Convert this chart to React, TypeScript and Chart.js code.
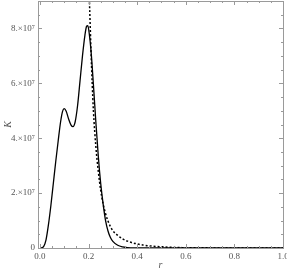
import React, { useEffect, useRef } from "react";
import { Chart, registerables } from "chart.js";

Chart.register(...registerables);

const solidR = [0.005, 0.015, 0.025, 0.035, 0.045, 0.055, 0.065, 0.075, 0.085, 0.093, 0.1, 0.108, 0.118, 0.128, 0.136, 0.145, 0.155, 0.165, 0.175, 0.185, 0.192, 0.197, 0.203, 0.21, 0.22, 0.23, 0.24, 0.25, 0.26, 0.27, 0.28, 0.29, 0.3, 0.32, 0.34, 0.36, 0.4, 0.5, 1.0];
const solidK = [0, 0.05, 0.3, 0.85, 1.55, 2.35, 3.15, 3.9, 4.6, 4.98, 5.08, 4.98, 4.7, 4.48, 4.42, 4.6, 5.2, 6.1, 7.0, 7.75, 8.08, 8.1, 7.8, 7.2, 5.95, 4.6, 3.35, 2.35, 1.6, 1.0, 0.62, 0.38, 0.24, 0.1, 0.04, 0.015, 0.004, 0, 0];

const dashedR = [0.195, 0.2, 0.205, 0.21, 0.215, 0.22, 0.23, 0.24, 0.25, 0.26, 0.27, 0.28, 0.29, 0.3, 0.32, 0.34, 0.36, 0.38, 0.4, 0.43, 0.46, 0.5, 0.55, 0.6, 0.7, 0.8, 1.0];
const dashedK = [11, 10.0, 8.6, 7.2, 6.0, 5.0, 3.7, 2.8, 2.1, 1.6, 1.25, 0.98, 0.78, 0.63, 0.46, 0.33, 0.25, 0.19, 0.15, 0.1, 0.07, 0.045, 0.02, 0.012, 0.005, 0.002, 0.0005];

const xTicks = [0, 0.2, 0.4, 0.6, 0.8, 1.0];
const xMinorTicks = [0.05, 0.1, 0.15, 0.25, 0.3, 0.35, 0.45, 0.5, 0.55, 0.65, 0.7, 0.75, 0.85, 0.9, 0.95];
const yTicks = [0, 2e7, 4e7, 6e7, 8e7];
const yMinorTicks = [0.5e7, 1e7, 1.5e7, 2.5e7, 3e7, 3.5e7, 4.5e7, 5e7, 5.5e7, 6.5e7, 7e7, 7.5e7, 8.5e7];
const yScaleFactor = 1e7;

const FONT = "'Liberation Serif', 'DejaVu Serif', serif";

const framePlugin = {
  id: "frameTicks",
  afterDatasetsDraw(chart: any) {
    const { ctx, chartArea, scales } = chart;
    const { left, right, top, bottom } = chartArea;
    ctx.save();
    ctx.strokeStyle = "#9a9a9a";
    ctx.lineWidth = 1;
    ctx.beginPath();
    const drawX = (v: number, len: number) => {
      const px = Math.round(scales.x.getPixelForValue(v)) + 0.5;
      ctx.moveTo(px, bottom);
      ctx.lineTo(px, bottom - len);
      ctx.moveTo(px, top);
      ctx.lineTo(px, top + len);
    };
    const drawY = (v: number, len: number) => {
      const py = Math.round(scales.y.getPixelForValue(v)) + 0.5;
      ctx.moveTo(left, py);
      ctx.lineTo(left + len, py);
      ctx.moveTo(right, py);
      ctx.lineTo(right - len, py);
    };
    xTicks.forEach((v) => drawX(v, 4));
    xMinorTicks.forEach((v) => drawX(v, 2));
    yTicks.forEach((v) => drawY(v, 4));
    yMinorTicks.forEach((v) => drawY(v, 2));
    ctx.stroke();
    ctx.strokeRect(Math.round(left) + 0.5, Math.round(top) + 0.5, Math.round(right - left), Math.round(bottom - top));
    ctx.restore();
  },
};

export default function App() {
  const ref = useRef<HTMLCanvasElement | null>(null);
  useEffect(() => {
    if (!ref.current) return;
    const chart = new Chart(ref.current, {
      type: "line",
      data: {
        datasets: [
          {
            data: solidR.map((r, i) => ({ x: r, y: solidK[i] * yScaleFactor })),
            borderColor: "#000",
            borderWidth: 1.3,
            pointRadius: 0,
            cubicInterpolationMode: "monotone",
            fill: false,
          },
          {
            data: dashedR.map((r, i) => ({ x: r, y: dashedK[i] * yScaleFactor })),
            borderColor: "#000",
            borderWidth: 1.5,
            borderDash: [2, 2],
            pointRadius: 0,
            cubicInterpolationMode: "monotone",
            fill: false,
          },
        ],
      },
      options: {
        animation: false,
        responsive: false,
        maintainAspectRatio: false,
        layout: { padding: { left: 0, right: 4, top: 1, bottom: 0 } },
        plugins: { legend: { display: false }, tooltip: { enabled: false } },
        scales: {
          x: {
            type: "linear",
            min: -0.008,
            max: 1.0,
            afterBuildTicks: (s: any) => {
              s.ticks = xTicks.map((v) => ({ value: v }));
            },
            afterFit: (s: any) => {
              s.height = 25;
              s.paddingLeft = 0;
              s.paddingRight = 0;
            },
            grid: { display: false, drawTicks: false },
            border: { display: false },
            ticks: {
              padding: 3,
              color: "#555",
              font: { family: FONT, size: 9 },
              maxRotation: 0,
              callback: (v: any) => Number(v).toFixed(1),
            },
            title: {
              display: true,
              text: "r",
              color: "#555",
              font: { family: FONT, size: 10, style: "italic" },
              padding: { top: 0, bottom: 2 },
            },
          },
          y: {
            type: "linear",
            min: 0,
            max: 9e7,
            afterBuildTicks: (s: any) => {
              s.ticks = yTicks.map((v) => ({ value: v }));
            },
            afterFit: (s: any) => {
              s.width = 38;
              s.paddingTop = 0;
              s.paddingBottom = 0;
            },
            grid: { display: false, drawTicks: false },
            border: { display: false },
            ticks: {
              padding: 3,
              color: "#555",
              font: { family: FONT, size: 9 },
              callback: (v: any) => (Number(v) === 0 ? "0" : `${Math.round(Number(v) / yScaleFactor)}.×10⁷`),
            },
            title: {
              display: true,
              text: "K",
              color: "#555",
              font: { family: FONT, size: 10, style: "italic" },
              padding: { top: 2, bottom: 0 },
            },
          },
        },
      },
      plugins: [framePlugin],
    });
    return () => chart.destroy();
  }, []);
  return (
    <div style={{ position: "fixed", left: 0, top: 0, width: 287, height: 273, background: "#fff" }}>
      <canvas ref={ref} width={287} height={273} style={{ display: "block" }} />
    </div>
  );
}
